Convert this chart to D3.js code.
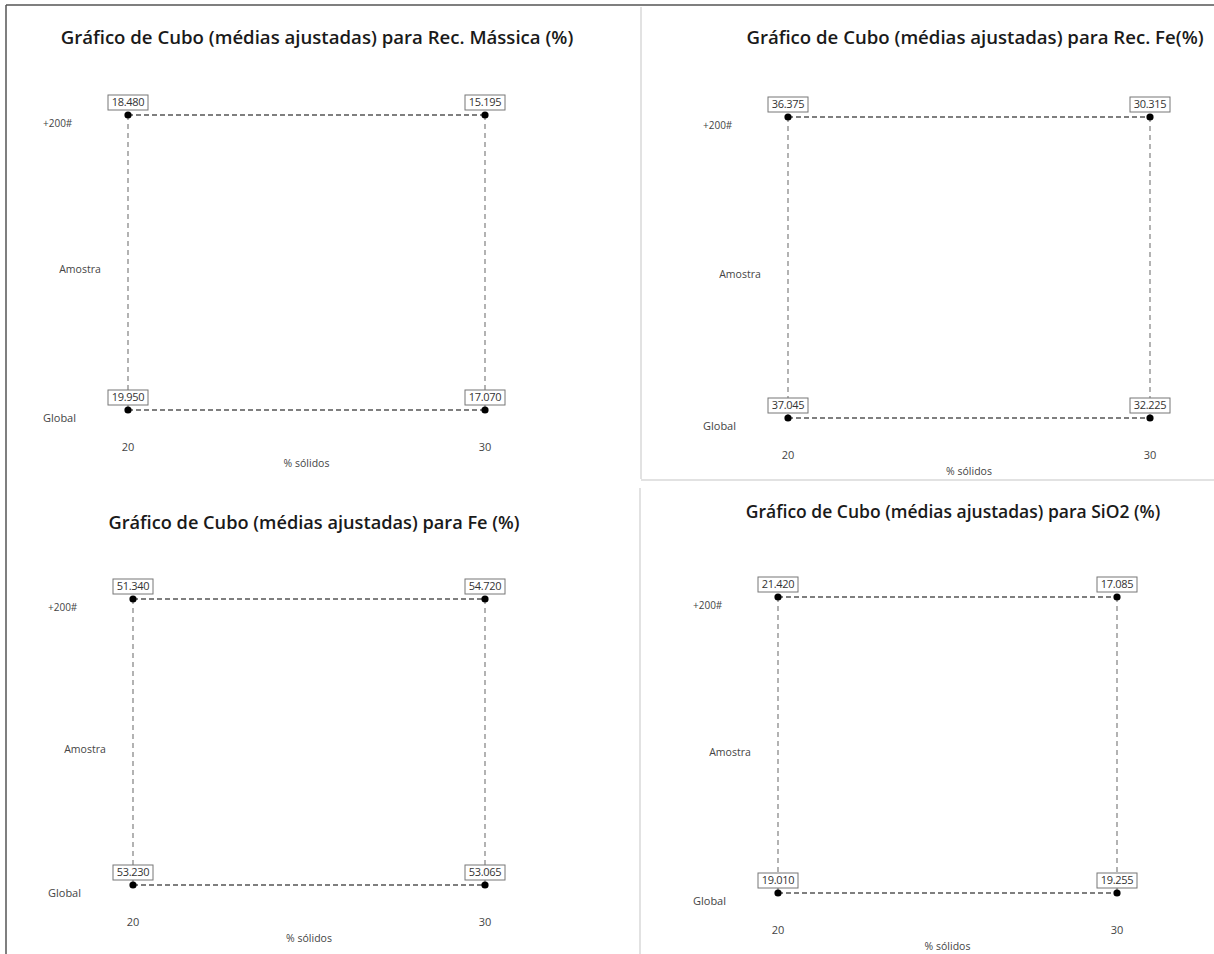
<!DOCTYPE html>
<html>
<head>
<meta charset="utf-8">
<script src="https://cdn.jsdelivr.net/npm/d3@7"></script>
<style>
  html, body { margin: 0; padding: 0; background: #fff; }
  svg { display: block; font-family: "Open Sans", "Noto Sans", sans-serif; }
</style>
</head>
<body>
<svg id="chart" width="1214" height="954"></svg>
<script>
// ---------- data ----------
const titles = [
  "Gráfico de Cubo (médias ajustadas) para Rec. Mássica (%)",
  "Gráfico de Cubo (médias ajustadas) para Rec. Fe(%)",
  "Gráfico de Cubo (médias ajustadas) para Fe (%)",
  "Gráfico de Cubo (médias ajustadas) para SiO2 (%)"
];
const xLevels = ["20", "30"];          // % sólidos
const yLevels = ["Global", "+200#"];   // Amostra
const xTitle = "% sólidos";
const yTitle = "Amostra";
// values ordered: [20/Global, 30/Global, 20/+200#, 30/+200#]
const recMassica = [19.950, 17.070, 18.480, 15.195];
const recFe      = [37.045, 32.225, 36.375, 30.315];
const teorFe     = [53.230, 53.065, 51.340, 54.720];
const teorSiO2   = [19.010, 19.255, 21.420, 17.085];
const seriesList = [recMassica, recFe, teorFe, teorSiO2];

// ---------- layout (positions only) ----------
const layout = [
  { x0: 128, x1: 485, yTop: 115, yBot: 410, tx: 317, ty: 44, tfs: 18.6 },
  { x0: 788, x1: 1150, yTop: 117, yBot: 418, tx: 975, ty: 44, tfs: 18.6 },
  { x0: 133, x1: 485, yTop: 599, yBot: 885, tx: 314, ty: 529, tfs: 18.2 },
  { x0: 778, x1: 1117, yTop: 597, yBot: 893, tx: 953, ty: 518, tfs: 17.5 }
];

const svg = d3.select("#chart");

// frames
svg.append("line").attr("x1", 6).attr("x2", 1214).attr("y1", 5).attr("y2", 5)
  .attr("stroke", "#555").attr("stroke-width", 1.5);
svg.append("line").attr("x1", 6).attr("x2", 6).attr("y1", 5).attr("y2", 954)
  .attr("stroke", "#555").attr("stroke-width", 1.5);
svg.append("line").attr("x1", 641).attr("x2", 641).attr("y1", 7).attr("y2", 479)
  .attr("stroke", "#e2e2e2").attr("stroke-width", 2);
svg.append("line").attr("x1", 641).attr("x2", 1214).attr("y1", 480).attr("y2", 480)
  .attr("stroke", "#e2e2e2").attr("stroke-width", 2);
svg.append("line").attr("x1", 640).attr("x2", 640).attr("y1", 488).attr("y2", 954)
  .attr("stroke", "#e2e2e2").attr("stroke-width", 2);

const fmt = d3.format(".3f");

seriesList.forEach((vals, i) => {
  const L = layout[i];
  const g = svg.append("g");
  const x = d3.scalePoint().domain(xLevels).range([L.x0, L.x1]);
  const y = d3.scalePoint().domain(yLevels).range([L.yBot, L.yTop]);

  const pts = [];
  yLevels.forEach((yl, yi) => xLevels.forEach((xl, xi) => {
    pts.push({ xl, yl, v: vals[yi * 2 + xi] });
  }));

  // title
  g.append("text").attr("x", L.tx).attr("y", L.ty)
    .attr("text-anchor", "middle").attr("font-size", L.tfs)
    .attr("font-weight", 600).attr("fill", "#1a1a1a").text(titles[i]);

  // vertical edges
  xLevels.forEach(xl => {
    g.append("line")
      .attr("x1", x(xl)).attr("x2", x(xl))
      .attr("y1", y(yLevels[1])).attr("y2", y(yLevels[0]))
      .attr("stroke", "#8a8a8a").attr("stroke-width", 1.3)
      .attr("stroke-dasharray", "5,4");
  });
  // horizontal edges
  yLevels.forEach(yl => {
    g.append("line")
      .attr("x1", x(xLevels[0])).attr("x2", x(xLevels[1]))
      .attr("y1", y(yl)).attr("y2", y(yl))
      .attr("stroke", "#555").attr("stroke-width", 1.3)
      .attr("stroke-dasharray", "5,3");
  });

  // points
  g.selectAll("circle").data(pts).join("circle")
    .attr("cx", d => x(d.xl)).attr("cy", d => y(d.yl))
    .attr("r", 3.6).attr("fill", "#000");

  // value boxes
  const bw = 40, bh = 15;
  const lab = g.selectAll("g.lab").data(pts).join("g").attr("class", "lab")
    .attr("transform", d => `translate(${x(d.xl)},${y(d.yl) - 5 - bh / 2})`);
  lab.append("rect").attr("x", -bw / 2).attr("y", -bh / 2)
    .attr("width", bw).attr("height", bh)
    .attr("fill", "#fff").attr("stroke", "#777").attr("stroke-width", 1);
  lab.append("text").attr("text-anchor", "middle").attr("dy", "0.35em")
    .attr("font-size", 11).attr("fill", "#333").attr("letter-spacing", -0.3)
    .text(d => fmt(d.v));

  // y level labels
  yLevels.forEach(yl => {
    g.append("text").attr("x", L.x0 - 85).attr("y", y(yl) + 8)
      .attr("dy", "0.35em").attr("font-size", yl === "Global" ? 11 : 10)
      .attr("fill", "#444").text(yl);
  });
  g.append("text").attr("x", L.x0 - 48).attr("y", (L.yTop + L.yBot) / 2 + 7)
    .attr("dy", "0.35em").attr("text-anchor", "middle")
    .attr("font-size", 10.5).attr("fill", "#444").text(yTitle);

  // x level labels
  xLevels.forEach(xl => {
    g.append("text").attr("x", x(xl)).attr("y", L.yBot + 37)
      .attr("dy", "0.35em").attr("text-anchor", "middle")
      .attr("font-size", 11).attr("fill", "#444").text(xl);
  });
  g.append("text").attr("x", (L.x0 + L.x1) / 2).attr("y", L.yBot + 53)
    .attr("dy", "0.35em").attr("text-anchor", "middle")
    .attr("font-size", 10.5).attr("fill", "#444").text(xTitle);
});
</script>
</body>
</html>
